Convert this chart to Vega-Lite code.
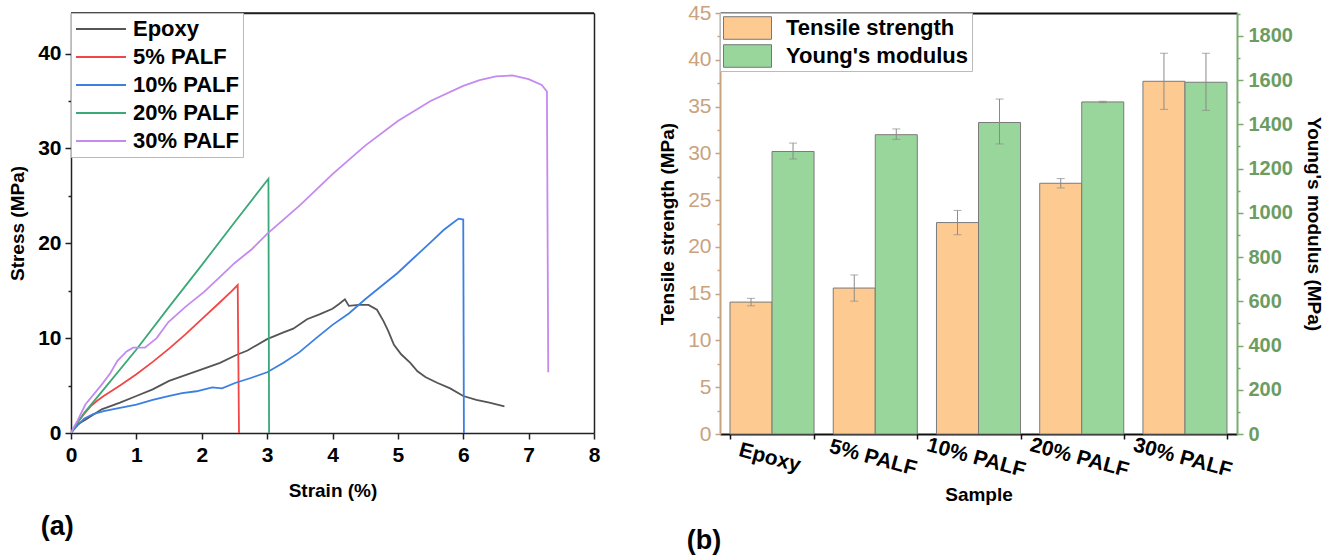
{
  "$schema": "https://vega.github.io/schema/vega-lite/v6.json",
  "padding": {"left": 8, "top": 2, "right": 0, "bottom": 0},
  "spacing": 58,
  "config": {
    "font": "Liberation Sans",
    "view": {"stroke": null},
    "axis": {"labelFont": "Liberation Sans", "titleFont": "Liberation Sans", "grid": false},
    "legend": {"labelFont": "Liberation Sans"}
  },
  "resolve": {"scale": {"color": "independent"}, "legend": {"color": "independent"}},
  "hconcat": [
    {
      "width": 523,
      "height": 420,
      "title": {"text": "(a)", "orient": "bottom", "anchor": "start", "fontSize": 27, "fontWeight": "bold", "color": "#000", "dx": 32, "offset": 14, "font": "Liberation Sans"},
      "data": {"values": [
        {"s": "Epoxy", "x": 0, "y": 0}, {"s": "Epoxy", "x": 0.05, "y": 0.5}, {"s": "Epoxy", "x": 0.1, "y": 0.9}, {"s": "Epoxy", "x": 0.22, "y": 1.4}, {"s": "Epoxy", "x": 0.47, "y": 2.5}, {"s": "Epoxy", "x": 0.75, "y": 3.2}, {"s": "Epoxy", "x": 1.0, "y": 3.9}, {"s": "Epoxy", "x": 1.25, "y": 4.6}, {"s": "Epoxy", "x": 1.5, "y": 5.5}, {"s": "Epoxy", "x": 1.75, "y": 6.1}, {"s": "Epoxy", "x": 2.0, "y": 6.7}, {"s": "Epoxy", "x": 2.28, "y": 7.4}, {"s": "Epoxy", "x": 2.52, "y": 8.2}, {"s": "Epoxy", "x": 2.7, "y": 8.7}, {"s": "Epoxy", "x": 3.0, "y": 9.9}, {"s": "Epoxy", "x": 3.25, "y": 10.6}, {"s": "Epoxy", "x": 3.4, "y": 11.0}, {"s": "Epoxy", "x": 3.61, "y": 12.0}, {"s": "Epoxy", "x": 3.8, "y": 12.5}, {"s": "Epoxy", "x": 4.0, "y": 13.1}, {"s": "Epoxy", "x": 4.1, "y": 13.6}, {"s": "Epoxy", "x": 4.19, "y": 14.1}, {"s": "Epoxy", "x": 4.25, "y": 13.4}, {"s": "Epoxy", "x": 4.4, "y": 13.5}, {"s": "Epoxy", "x": 4.55, "y": 13.5}, {"s": "Epoxy", "x": 4.68, "y": 13.0}, {"s": "Epoxy", "x": 4.78, "y": 11.8}, {"s": "Epoxy", "x": 4.85, "y": 10.8}, {"s": "Epoxy", "x": 4.94, "y": 9.3}, {"s": "Epoxy", "x": 5.05, "y": 8.3}, {"s": "Epoxy", "x": 5.19, "y": 7.4}, {"s": "Epoxy", "x": 5.3, "y": 6.5}, {"s": "Epoxy", "x": 5.42, "y": 5.9}, {"s": "Epoxy", "x": 5.6, "y": 5.3}, {"s": "Epoxy", "x": 5.8, "y": 4.7}, {"s": "Epoxy", "x": 6.0, "y": 3.9}, {"s": "Epoxy", "x": 6.2, "y": 3.5}, {"s": "Epoxy", "x": 6.4, "y": 3.2}, {"s": "Epoxy", "x": 6.63, "y": 2.8},
        {"s": "5% PALF", "x": 0, "y": 0}, {"s": "5% PALF", "x": 0.05, "y": 0.6}, {"s": "5% PALF", "x": 0.1, "y": 1.1}, {"s": "5% PALF", "x": 0.2, "y": 2.0}, {"s": "5% PALF", "x": 0.3, "y": 2.8}, {"s": "5% PALF", "x": 0.4, "y": 3.4}, {"s": "5% PALF", "x": 0.5, "y": 3.9}, {"s": "5% PALF", "x": 0.75, "y": 5.0}, {"s": "5% PALF", "x": 1.0, "y": 6.2}, {"s": "5% PALF", "x": 1.25, "y": 7.5}, {"s": "5% PALF", "x": 1.5, "y": 8.9}, {"s": "5% PALF", "x": 1.75, "y": 10.4}, {"s": "5% PALF", "x": 2.0, "y": 12.0}, {"s": "5% PALF", "x": 2.25, "y": 13.6}, {"s": "5% PALF", "x": 2.45, "y": 14.9}, {"s": "5% PALF", "x": 2.55, "y": 15.6}, {"s": "5% PALF", "x": 2.57, "y": 0},
        {"s": "10% PALF", "x": 0, "y": 0}, {"s": "10% PALF", "x": 0.05, "y": 0.4}, {"s": "10% PALF", "x": 0.1, "y": 0.8}, {"s": "10% PALF", "x": 0.2, "y": 1.5}, {"s": "10% PALF", "x": 0.34, "y": 2.0}, {"s": "10% PALF", "x": 0.5, "y": 2.3}, {"s": "10% PALF", "x": 0.71, "y": 2.6}, {"s": "10% PALF", "x": 1.0, "y": 3.0}, {"s": "10% PALF", "x": 1.25, "y": 3.5}, {"s": "10% PALF", "x": 1.49, "y": 3.9}, {"s": "10% PALF", "x": 1.7, "y": 4.2}, {"s": "10% PALF", "x": 1.92, "y": 4.4}, {"s": "10% PALF", "x": 2.16, "y": 4.8}, {"s": "10% PALF", "x": 2.31, "y": 4.7}, {"s": "10% PALF", "x": 2.52, "y": 5.3}, {"s": "10% PALF", "x": 2.75, "y": 5.8}, {"s": "10% PALF", "x": 3.0, "y": 6.4}, {"s": "10% PALF", "x": 3.25, "y": 7.4}, {"s": "10% PALF", "x": 3.49, "y": 8.5}, {"s": "10% PALF", "x": 3.75, "y": 10.0}, {"s": "10% PALF", "x": 4.0, "y": 11.4}, {"s": "10% PALF", "x": 4.25, "y": 12.6}, {"s": "10% PALF", "x": 4.5, "y": 14.1}, {"s": "10% PALF", "x": 4.75, "y": 15.5}, {"s": "10% PALF", "x": 5.0, "y": 16.9}, {"s": "10% PALF", "x": 5.25, "y": 18.5}, {"s": "10% PALF", "x": 5.5, "y": 20.1}, {"s": "10% PALF", "x": 5.7, "y": 21.4}, {"s": "10% PALF", "x": 5.85, "y": 22.2}, {"s": "10% PALF", "x": 5.93, "y": 22.6}, {"s": "10% PALF", "x": 6.0, "y": 22.5}, {"s": "10% PALF", "x": 6.01, "y": 0},
        {"s": "20% PALF", "x": 0, "y": 0}, {"s": "20% PALF", "x": 0.05, "y": 0.6}, {"s": "20% PALF", "x": 0.1, "y": 1.1}, {"s": "20% PALF", "x": 0.2, "y": 2.1}, {"s": "20% PALF", "x": 0.5, "y": 4.6}, {"s": "20% PALF", "x": 1.0, "y": 8.8}, {"s": "20% PALF", "x": 1.5, "y": 13.3}, {"s": "20% PALF", "x": 2.0, "y": 17.7}, {"s": "20% PALF", "x": 2.5, "y": 22.2}, {"s": "20% PALF", "x": 3.02, "y": 26.8}, {"s": "20% PALF", "x": 3.03, "y": 0},
        {"s": "30% PALF", "x": 0, "y": 0}, {"s": "30% PALF", "x": 0.05, "y": 0.7}, {"s": "30% PALF", "x": 0.1, "y": 1.3}, {"s": "30% PALF", "x": 0.22, "y": 3.0}, {"s": "30% PALF", "x": 0.47, "y": 5.1}, {"s": "30% PALF", "x": 0.6, "y": 6.3}, {"s": "30% PALF", "x": 0.71, "y": 7.6}, {"s": "30% PALF", "x": 0.85, "y": 8.6}, {"s": "30% PALF", "x": 0.95, "y": 9.0}, {"s": "30% PALF", "x": 1.13, "y": 9.0}, {"s": "30% PALF", "x": 1.31, "y": 10.0}, {"s": "30% PALF", "x": 1.49, "y": 11.7}, {"s": "30% PALF", "x": 1.75, "y": 13.3}, {"s": "30% PALF", "x": 2.04, "y": 14.9}, {"s": "30% PALF", "x": 2.3, "y": 16.6}, {"s": "30% PALF", "x": 2.5, "y": 17.9}, {"s": "30% PALF", "x": 2.77, "y": 19.4}, {"s": "30% PALF", "x": 3.0, "y": 21.0}, {"s": "30% PALF", "x": 3.5, "y": 24.0}, {"s": "30% PALF", "x": 4.0, "y": 27.3}, {"s": "30% PALF", "x": 4.5, "y": 30.3}, {"s": "30% PALF", "x": 5.0, "y": 32.9}, {"s": "30% PALF", "x": 5.5, "y": 35.0}, {"s": "30% PALF", "x": 6.0, "y": 36.6}, {"s": "30% PALF", "x": 6.25, "y": 37.2}, {"s": "30% PALF", "x": 6.5, "y": 37.6}, {"s": "30% PALF", "x": 6.75, "y": 37.7}, {"s": "30% PALF", "x": 7.0, "y": 37.3}, {"s": "30% PALF", "x": 7.2, "y": 36.7}, {"s": "30% PALF", "x": 7.28, "y": 36.0}, {"s": "30% PALF", "x": 7.3, "y": 6.4}
      ]},
      "layer": [
        {
          "mark": {"type": "line", "strokeWidth": 1.8, "clip": true},
          "encoding": {
            "x": {
              "field": "x", "type": "quantitative",
              "scale": {"domain": [0, 8], "nice": false, "zero": false},
              "axis": {
                "title": "Strain (%)", "format": "d", "orient": "bottom",
                "values": [0, 0.5, 1, 1.5, 2, 2.5, 3, 3.5, 4, 4.5, 5, 5.5, 6, 6.5, 7, 7.5, 8],
                "labelExpr": "datum.value % 1 === 0 ? datum.label : ''",
                "tickSize": {"condition": {"test": "datum.value % 1 !== 0", "value": 3}, "value": 6},
                "domainColor": "#222", "domainWidth": 1.5, "tickColor": "#222", "tickWidth": 1.5,
                "labelFontSize": 21, "labelFontWeight": "bold", "labelColor": "#000", "labelPadding": 5, "labelFlush": false, "labelOverlap": false,
                "titleFontSize": 19, "titleFontWeight": "bold", "titleColor": "#000", "titlePadding": 16
              }
            },
            "y": {
              "field": "y", "type": "quantitative",
              "scale": {"domain": [0, 44.28], "nice": false},
              "axis": {
                "title": "Stress (MPa)", "orient": "left",
                "values": [0, 5, 10, 15, 20, 25, 30, 35, 40],
                "labelExpr": "datum.value % 10 === 0 ? datum.label : ''",
                "tickSize": {"condition": {"test": "datum.value % 10 !== 0", "value": 3}, "value": 6},
                "domainColor": "#222", "domainWidth": 1.5, "tickColor": "#222", "tickWidth": 1.5,
                "labelFontSize": 21, "labelFontWeight": "bold", "labelColor": "#000", "labelPadding": 4, "labelFlush": false, "labelOverlap": false,
                "titleFontSize": 19, "titleFontWeight": "bold", "titleColor": "#000", "titlePadding": 10
              }
            },
            "color": {
              "field": "s", "type": "nominal",
              "scale": {"domain": ["Epoxy", "5% PALF", "10% PALF", "20% PALF", "30% PALF"], "range": ["#555555", "#f24646", "#3b7fe3", "#3aa877", "#c58af0"]},
              "legend": {
                "title": null, "orient": "top-left", "offset": 0, "padding": 4,
                "strokeColor": "#bbbbbb", "fillColor": "#ffffff",
                "symbolType": "stroke", "symbolSize": 2500, "symbolStrokeWidth": 2,
                "labelFontSize": 22, "labelFontWeight": "bold", "labelColor": "#000", "labelOffset": 6, "labelLimit": 300,
                "clipHeight": 24, "rowPadding": 4
              }
            }
          }
        },
        {
          "transform": [{"filter": "datum.x === 0 && datum.s === 'Epoxy'"}],
          "mark": {"type": "rule", "color": "#222", "strokeWidth": 1.5},
          "encoding": {
            "x": {"datum": 0, "type": "quantitative", "scale": {"domain": [0, 8], "nice": false, "zero": false},
                  "axis": {"orient": "top", "title": null, "labels": false, "ticks": false, "domain": true, "domainColor": "#222", "domainWidth": 1.5}},
            "x2": {"datum": 8},
            "y": {"datum": 44.28, "type": "quantitative", "scale": {"domain": [0, 44.28], "nice": false},
                  "axis": {"orient": "right", "title": null, "labels": false, "ticks": false, "domain": true, "domainColor": "#222", "domainWidth": 1.5}}
          }
        }
      ],
      "resolve": {"scale": {"x": "independent", "y": "independent"}, "axis": {"x": "independent", "y": "independent"}}
    },
    {
      "width": 517,
      "height": 421,
      "title": {"text": "(b)", "orient": "bottom", "anchor": "start", "fontSize": 27, "fontWeight": "bold", "color": "#000", "dx": 28, "offset": 24, "font": "Liberation Sans"},
      "data": {"values": [
        {"Sample": "Epoxy", "Series": "Tensile strength", "value": 14.1, "lo": 13.7, "hi": 14.5},
        {"Sample": "5% PALF", "Series": "Tensile strength", "value": 15.6, "lo": 14.2, "hi": 17.0},
        {"Sample": "10% PALF", "Series": "Tensile strength", "value": 22.6, "lo": 21.3, "hi": 23.9},
        {"Sample": "20% PALF", "Series": "Tensile strength", "value": 26.8, "lo": 26.3, "hi": 27.3},
        {"Sample": "30% PALF", "Series": "Tensile strength", "value": 37.7, "lo": 34.7, "hi": 40.7},
        {"Sample": "Epoxy", "Series": "Young's modulus", "value": 1277, "lo": 1243, "hi": 1315},
        {"Sample": "5% PALF", "Series": "Young's modulus", "value": 1353, "lo": 1332, "hi": 1379},
        {"Sample": "10% PALF", "Series": "Young's modulus", "value": 1408, "lo": 1311, "hi": 1514},
        {"Sample": "20% PALF", "Series": "Young's modulus", "value": 1501, "lo": 1498, "hi": 1504},
        {"Sample": "30% PALF", "Series": "Young's modulus", "value": 1590, "lo": 1463, "hi": 1721}
      ]},
      "encoding": {
        "x": {"field": "Sample", "type": "nominal", "sort": ["Epoxy", "5% PALF", "10% PALF", "20% PALF", "30% PALF"], "scale": {"paddingInner": 0.186, "paddingOuter": 0.097}, "axis": null},
        "xOffset": {"field": "Series", "type": "nominal", "scale": {"domain": ["Tensile strength", "Young's modulus"], "paddingInner": 0, "paddingOuter": 0}}
      },
      "layer": [
        {
          "transform": [{"filter": "datum.Series === 'Tensile strength'"}],
          "mark": {"type": "bar", "stroke": "#7a7a7a", "strokeWidth": 1},
          "encoding": {
            "x": {
              "field": "Sample", "type": "nominal", "sort": ["Epoxy", "5% PALF", "10% PALF", "20% PALF", "30% PALF"],
              "axis": {
                "title": "Sample", "orient": "bottom",
                "labelAngle": 15, "labelAlign": "center", "labelBaseline": "top",
                "labelFontSize": 21, "labelFontWeight": "bold", "labelColor": "#000", "labelPadding": 8,
                "domainColor": "#111", "domainWidth": 2, "tickColor": "#111", "tickWidth": 1.5, "tickSize": 5, "tickBand": "extent",
                "titleFontSize": 19, "titleFontWeight": "bold", "titleColor": "#000", "titlePadding": 5
              }
            },
            "y": {
              "field": "value", "type": "quantitative",
              "scale": {"domain": [0, 45], "nice": false},
              "axis": {
                "title": "Tensile strength (MPa)", "orient": "left",
                "values": [0, 2.5, 5, 7.5, 10, 12.5, 15, 17.5, 20, 22.5, 25, 27.5, 30, 32.5, 35, 37.5, 40, 42.5, 45],
                "labelExpr": "datum.value % 5 === 0 ? datum.label : ''",
                "tickSize": {"condition": {"test": "datum.value % 5 !== 0", "value": 3}, "value": 5},
                "labelFontSize": 21, "labelFontWeight": "normal", "labelColor": "#c9a27e", "labelPadding": 4, "labelFlush": false, "labelOverlap": false,
                "domainColor": "#c9a27e", "domainWidth": 2, "tickColor": "#c9a27e", "tickWidth": 1.5,
                "titleFontSize": 19, "titleFontWeight": "bold", "titleColor": "#000", "titlePadding": 10
              }
            },
            "color": {
              "field": "Series", "type": "nominal",
              "scale": {"domain": ["Tensile strength", "Young's modulus"], "range": ["#fdcb92", "#98d69b"]},
              "legend": {
                "title": null, "orient": "top-left", "offset": 0, "padding": 3,
                "strokeColor": "#bbbbbb", "fillColor": "#ffffff",
                "symbolType": "M-1,-0.47L1,-0.47L1,0.47L-1,0.47Z", "symbolSize": 2304, "symbolStrokeColor": "#777777", "symbolStrokeWidth": 1,
                "labelFontSize": 22, "labelFontWeight": "bold", "labelColor": "#000", "labelOffset": 14, "labelLimit": 300,
                "clipHeight": 24, "rowPadding": 4
              }
            }
          }
        },
        {
          "transform": [{"filter": "datum.Series === 'Tensile strength'"}],
          "mark": {"type": "rule", "color": "#8a8a8a", "strokeWidth": 1},
          "encoding": {
            "y": {"field": "lo", "type": "quantitative", "scale": {"domain": [0, 45], "nice": false}, "axis": null},
            "y2": {"field": "hi"}
          }
        },
        {
          "transform": [{"filter": "datum.Series === 'Tensile strength'"}],
          "mark": {"type": "tick", "color": "#8a8a8a", "size": 8, "thickness": 1},
          "encoding": {
            "y": {"field": "lo", "type": "quantitative", "scale": {"domain": [0, 45], "nice": false}, "axis": null}
          }
        },
        {
          "transform": [{"filter": "datum.Series === 'Tensile strength'"}],
          "mark": {"type": "tick", "color": "#8a8a8a", "size": 8, "thickness": 1},
          "encoding": {
            "y": {"field": "hi", "type": "quantitative", "scale": {"domain": [0, 45], "nice": false}, "axis": null}
          }
        },
        {
          "transform": [{"filter": "datum.Series === \"Young's modulus\""}],
          "mark": {"type": "bar", "stroke": "#7a7a7a", "strokeWidth": 1},
          "encoding": {
            "x": {
              "field": "Sample", "type": "nominal", "sort": ["Epoxy", "5% PALF", "10% PALF", "20% PALF", "30% PALF"],
              "axis": {"orient": "top", "title": null, "labels": false, "ticks": false, "domainColor": "#111", "domainWidth": 2}
            },
            "y": {
              "field": "value", "type": "quantitative",
              "scale": {"domain": [0, 1903], "nice": false},
              "axis": {
                "title": "Young's modulus (MPa)", "orient": "right",
                "values": [0, 100, 200, 300, 400, 500, 600, 700, 800, 900, 1000, 1100, 1200, 1300, 1400, 1500, 1600, 1700, 1800, 1900],
                "labelExpr": "datum.value % 200 === 0 ? datum.label : ''",
                "format": "d",
                "tickSize": {"condition": {"test": "datum.value % 200 !== 0", "value": 3}, "value": 6},
                "labelFontSize": 20, "labelFontWeight": "bold", "labelColor": "#6b9c62", "labelPadding": 5, "labelFlush": false, "labelOverlap": false,
                "domainColor": "#7aab70", "domainWidth": 2, "tickColor": "#7aab70", "tickWidth": 1.5,
                "titleFontSize": 19, "titleFontWeight": "bold", "titleColor": "#000", "titlePadding": 11
              }
            },
            "color": {
              "field": "Series", "type": "nominal",
              "scale": {"domain": ["Tensile strength", "Young's modulus"], "range": ["#fdcb92", "#98d69b"]},
              "legend": {
                "title": null, "orient": "top-left", "offset": 0, "padding": 3,
                "strokeColor": "#bbbbbb", "fillColor": "#ffffff",
                "symbolType": "M-1,-0.47L1,-0.47L1,0.47L-1,0.47Z", "symbolSize": 2304, "symbolStrokeColor": "#777777", "symbolStrokeWidth": 1,
                "labelFontSize": 22, "labelFontWeight": "bold", "labelColor": "#000", "labelOffset": 14, "labelLimit": 300,
                "clipHeight": 24, "rowPadding": 4
              }
            }
          }
        },
        {
          "transform": [{"filter": "datum.Series === \"Young's modulus\""}],
          "mark": {"type": "rule", "color": "#8a8a8a", "strokeWidth": 1},
          "encoding": {
            "y": {"field": "lo", "type": "quantitative", "scale": {"domain": [0, 1903], "nice": false}, "axis": null},
            "y2": {"field": "hi"}
          }
        },
        {
          "transform": [{"filter": "datum.Series === \"Young's modulus\""}],
          "mark": {"type": "tick", "color": "#8a8a8a", "size": 8, "thickness": 1},
          "encoding": {
            "y": {"field": "lo", "type": "quantitative", "scale": {"domain": [0, 1903], "nice": false}, "axis": null}
          }
        },
        {
          "transform": [{"filter": "datum.Series === \"Young's modulus\""}],
          "mark": {"type": "tick", "color": "#8a8a8a", "size": 8, "thickness": 1},
          "encoding": {
            "y": {"field": "hi", "type": "quantitative", "scale": {"domain": [0, 1903], "nice": false}, "axis": null}
          }
        }
      ],
      "resolve": {"scale": {"y": "independent"}, "axis": {"x": "independent", "y": "independent"}}
    }
  ]
}
